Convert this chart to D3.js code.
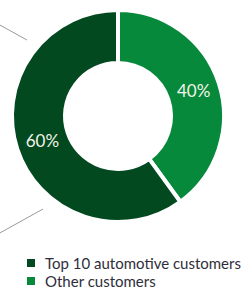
<!DOCTYPE html>
<html>
<head>
<meta charset="utf-8">
<script src="https://cdn.jsdelivr.net/npm/d3@7"></script>
<style>
  body { margin: 0; background: #fff; }
  svg { display: block; }
</style>
</head>
<body>
<div id="container"></div>
<script>
/* DATA */
const categories = ["Other customers", "Top 10 automotive customers"];
const shares = [40, 60];
const legendOrder = ["Top 10 automotive customers", "Other customers"];
const colors = ["#07893c", "#02491f"];

const width = 243, height = 291;
const cx = 118, cy = 116;
const outerR = 106, innerR = 53;

const svg = d3.select("#container")
  .append("svg")
  .attr("width", width)
  .attr("height", height);

// leader line fragments from neighbouring graphic
svg.append("line")
  .attr("x1", -2).attr("y1", 24).attr("x2", 27).attr("y2", 40)
  .attr("stroke", "#9a9a9a").attr("stroke-width", 1);
svg.append("line")
  .attr("x1", -2).attr("y1", 234).attr("x2", 43).attr("y2", 209)
  .attr("stroke", "#9a9a9a").attr("stroke-width", 1);

const colorScale = d3.scaleOrdinal()
  .domain(categories)
  .range(colors);

const pie = d3.pie()
  .sort(null)
  .value(d => d.value);

const data = categories.map((c, i) => ({name: c, value: shares[i]}));

const arc = d3.arc()
  .innerRadius(innerR)
  .outerRadius(outerR);

const g = svg.append("g")
  .attr("transform", `translate(${cx},${cy})`);

g.selectAll("path")
  .data(pie(data))
  .join("path")
  .attr("d", arc)
  .attr("fill", d => colorScale(d.data.name))
  .attr("stroke", "#fff")
  .attr("stroke-width", 4)
  .attr("stroke-linejoin", "miter");

g.selectAll("text")
  .data(pie(data))
  .join("text")
  .attr("transform", d => `translate(${arc.centroid(d)})`)
  .attr("text-anchor", "middle")
  .attr("dy", "0.35em")
  .style("font-family", "Lato, sans-serif")
  .style("font-size", "17px")
  .style("fill", "#f4f4e8")
  .text(d => d.data.value + "%");

/* LEGEND */
const legend = svg.append("g");
const rows = legend.selectAll("g")
  .data(legendOrder)
  .join("g")
  .attr("transform", (d, i) => `translate(27,${259 + i * 18})`);

rows.append("rect")
  .attr("width", 8)
  .attr("height", 8)
  .attr("fill", d => colorScale(d));

rows.append("text")
  .attr("x", 18)
  .attr("y", 10)
  .style("font-family", "Lato, sans-serif")
  .style("font-size", "15px")
  .style("fill", "#2e2e3a")
  .text(d => d);
</script>
</body>
</html>
